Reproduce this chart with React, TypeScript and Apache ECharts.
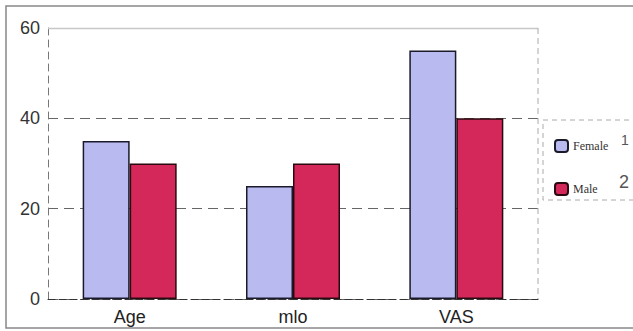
import React, { useEffect, useRef } from "react";
import * as echarts from "echarts";

const categories = ["Age", "mlo", "VAS"];
const femaleValues = [35, 25, 55];
const maleValues = [30, 30, 40];
const yTicks = [0, 20, 40, 60];
const seriesNames = ["Female", "Male"];
const legendMarks = ["1", "2"];

export default function App() {
  const ref = useRef<HTMLDivElement>(null);
  useEffect(() => {
    if (!ref.current) return;
    const chart = echarts.init(ref.current, undefined, { renderer: "svg" });
    chart.setOption({
      animation: false,
      backgroundColor: "#ffffff",
      grid: { left: 48, right: 95, top: 28, bottom: 32 },
      xAxis: {
        type: "category",
        data: categories,
        axisLine: { show: true, lineStyle: { color: "#333", type: [7, 4], width: 1.2 } },
        axisTick: { show: false },
        axisLabel: { color: "#222", fontSize: 18, fontFamily: "Liberation Sans, Arial", margin: 9 },
      },
      yAxis: {
        type: "value",
        min: yTicks[0],
        max: yTicks[yTicks.length - 1],
        interval: 20,
        axisLine: { show: true, lineStyle: { color: "#777", type: [7, 5], width: 1 } },
        axisTick: { show: false },
        axisLabel: { color: "#333", fontSize: 18, fontFamily: "Liberation Sans, Arial", margin: 8 },
        splitLine: {
          show: true,
          lineStyle: { color: ["#666", "#666", "#666", "#cccccc"], type: [10, 6], width: 1 },
        },
      },
      legend: {
        orient: "vertical",
        left: 549,
        top: 134,
        itemGap: 29,
        itemWidth: 13,
        itemHeight: 12,
        data: seriesNames,
        textStyle: { fontFamily: "Liberation Serif, serif", fontSize: 12, color: "#333" },
      },
      series: [
        {
          name: seriesNames[0],
          type: "bar",
          data: femaleValues,
          barWidth: 47,
          barGap: "0%",
          itemStyle: { color: "#b9baf0", borderColor: "#1a1a2a", borderWidth: 1.5 },
        },
        {
          name: seriesNames[1],
          type: "bar",
          data: maleValues,
          barWidth: 47,
          itemStyle: { color: "#d4285a", borderColor: "#2a0a10", borderWidth: 1.5 },
        },
      ],
      graphic: [
        {
          type: "rect",
          z: 100,
          shape: { x: 6, y: 6, width: 660, height: 322 },
          style: { fill: "none", stroke: "#888", lineWidth: 1.5 },
          silent: true,
        },
        {
          type: "line",
          z: 100,
          shape: { x1: 48, y1: 28.5, x2: 538, y2: 28.5 },
          style: { stroke: "#c8c8c8", lineWidth: 1.5 },
          silent: true,
        },
        {
          type: "line",
          z: 100,
          shape: { x1: 538, y1: 28, x2: 538, y2: 299 },
          style: { stroke: "#aaa", lineWidth: 1, lineDash: [6, 4] },
          silent: true,
        },
        {
          type: "rect",
          z: 100,
          shape: { x: 543, y: 120, width: 100, height: 80 },
          style: { fill: "none", stroke: "#aaa", lineWidth: 1, lineDash: [5, 4] },
          silent: true,
        },
        {
          type: "text",
          z: 100,
          x: 621,
          y: 133,
          style: { text: legendMarks[0], fontSize: 14, fill: "#555", fontFamily: "Liberation Sans, Arial" },
          silent: true,
        },
        {
          type: "text",
          z: 100,
          x: 619,
          y: 173,
          style: { text: legendMarks[1], fontSize: 18, fill: "#555", fontFamily: "Liberation Sans, Arial" },
          silent: true,
        },
      ],
    });
    return () => chart.dispose();
  }, []);
  return <div ref={ref} style={{ width: 633, height: 331, position: "absolute", left: 0, top: 0 }} />;
}
